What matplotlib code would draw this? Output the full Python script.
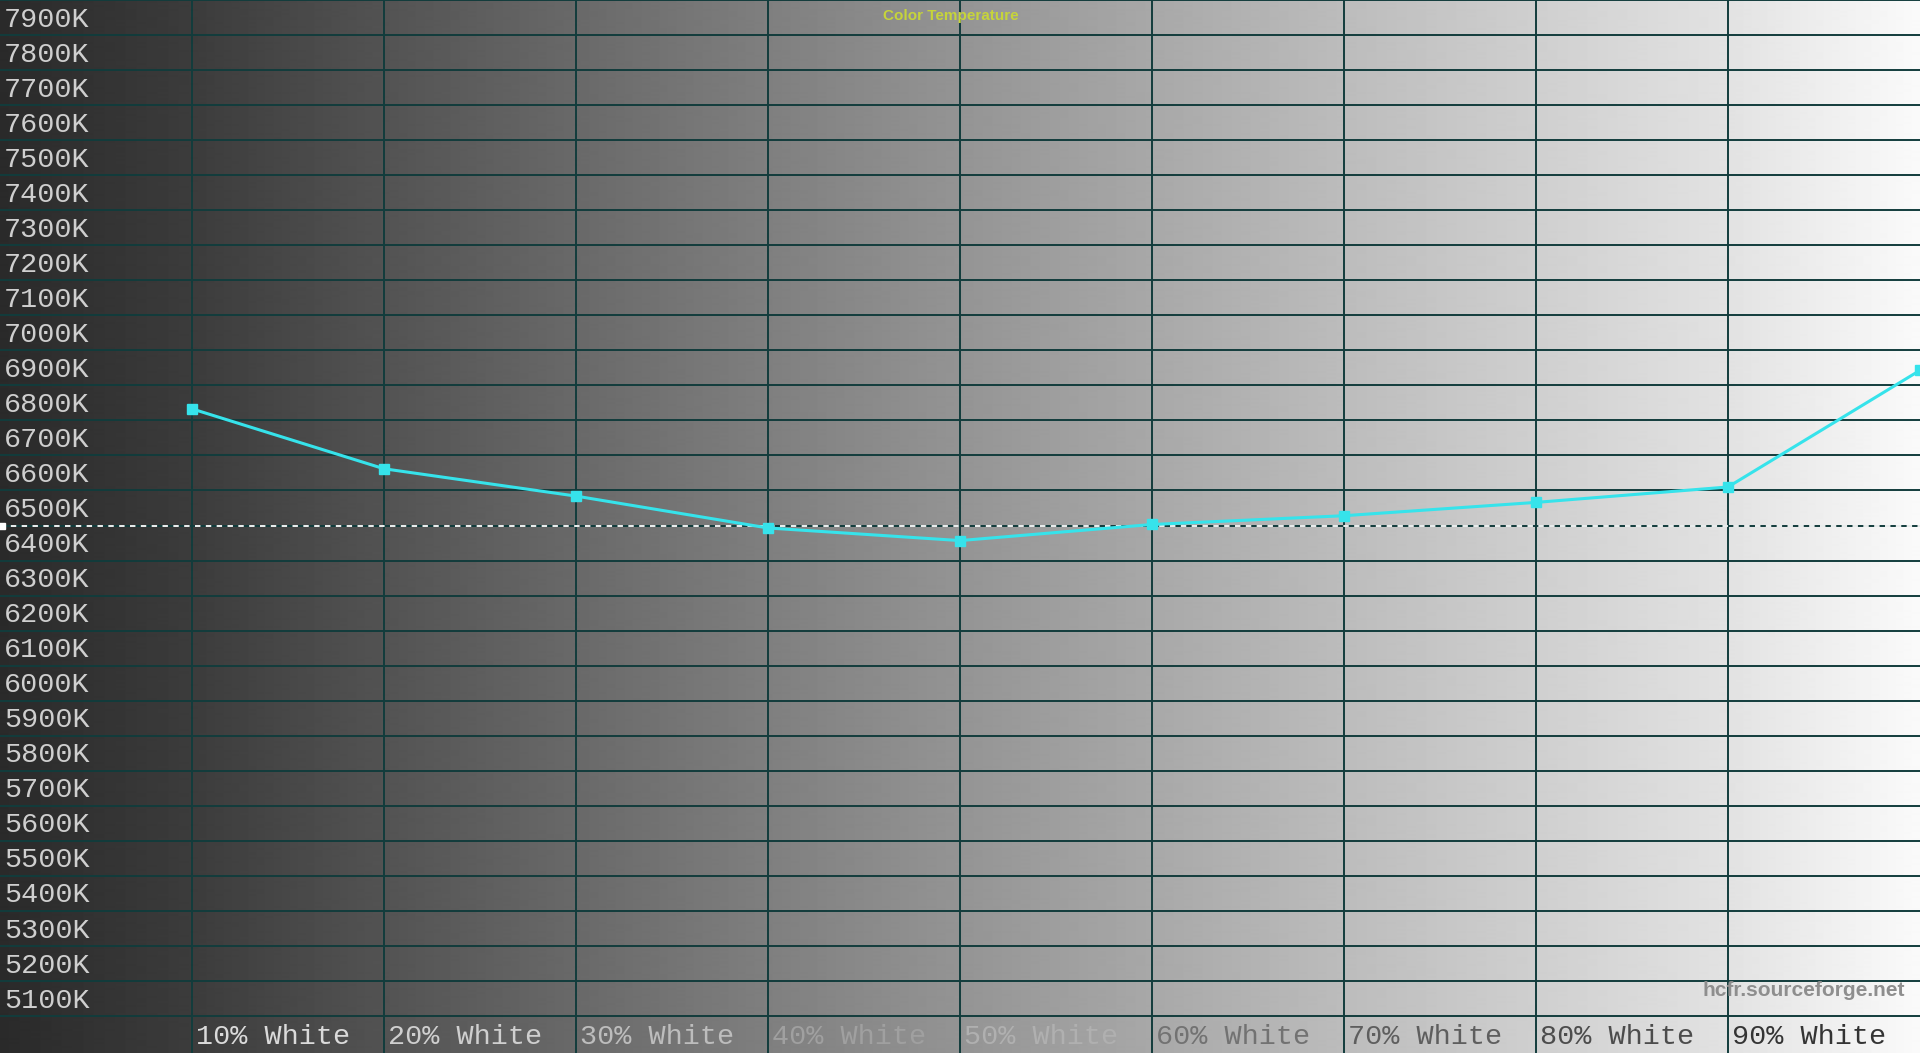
import numpy as np
import matplotlib.pyplot as plt

# data
levels = ["10% White", "20% White", "30% White", "40% White", "50% White",
          "60% White", "70% White", "80% White", "90% White"]
positions = [1, 2, 3, 4, 5, 6, 7, 8, 9, 10]          # 100% point sits on the right edge
temps = [6833, 6662, 6584, 6493, 6457, 6503, 6528, 6566, 6610, 6943]
target = 6500
ytick_vals = list(range(5100, 8000, 100))

# colors of the x labels (they are drawn almost inverse to the background)
xlabel_colors = ["#dadada", "#cfcfcf", "#bdbdbd", "#a0a0a0", "#b0b0b0",
                 "#727272", "#5e5e5e", "#4c4c4c", "#343434"]

W, H = 1920, 1053
strip = 37  # pixel height of label strip at the bottom
ymax = 8000
ymin = 5100 - strip / (H - strip) * (ymax - 5100)

fig = plt.figure(figsize=(W / 100, H / 100), dpi=100)
ax = fig.add_axes([0, 0, 1, 1])
ax.set_xlim(0, 10)
ax.set_ylim(ymin, ymax)
ax.axis("off")

# grey ramp background
gx = np.linspace(0, 10, W)
anchors = [0, 1, 2, 3, 4, 5, 6, 7, 8, 9, 10]
greys = [0x2a, 0x3c, 0x53, 0x69, 0x7f, 0x94, 0xa8, 0xbc, 0xcf, 0xe2, 0xfa]
g = np.interp(gx, anchors, greys) / 255.0
img = np.tile(g, (2, 1))
ax.imshow(img, cmap="gray", vmin=0, vmax=1, extent=[0, 10, ymin, ymax],
          aspect="auto", interpolation="bilinear", zorder=0)

# grid
grid_col = "#123c3c"
for v in ytick_vals + [8000]:
    ax.axhline(v, color=grid_col, lw=1.4, zorder=1)
for k in range(1, 10):
    ax.axvline(k, color=grid_col, lw=1.4, zorder=1)

# 6500K reference
ax.axhline(target, color="white", lw=1.3, ls=(0, (3, 3)), zorder=2)
ax.plot([0.012], [target], marker="s", ms=4, color="white", zorder=3)

# measured curve
ax.plot(positions, temps, color="#36e3eb", lw=2.2, marker="s", ms=7.5,
        mec="#36e3eb", mfc="#36e3eb", zorder=4)

# y labels
mono = ["Liberation Mono", "DejaVu Sans Mono"]
for v in ytick_vals:
    ax.text(0.02, v + 44, f"{v}K", ha="left", va="center", fontsize=20.5,
            family=mono, color="#cfcfcf", zorder=5)

# x labels
for k, (lab, c) in enumerate(zip(levels, xlabel_colors), start=1):
    ax.text(k + 0.02, (ymin + 5100) / 2 - 8, lab, ha="left", va="center",
            fontsize=20.5, family=mono, color=c, zorder=5)

fig.text(0.495, 1 - 16 / H, "Color Temperature", ha="center", va="center",
         fontsize=11, fontweight="bold", color="#c6d43a",
         family=["Liberation Sans", "DejaVu Sans"])
fig.text(1 - 15 / W, 1 - 990 / H, "hcfr.sourceforge.net", ha="right", va="center",
         fontsize=15, color="#8e8e8e", fontweight="bold",
         family=["Liberation Sans", "DejaVu Sans"])

fig.savefig("out.png", dpi=100)
